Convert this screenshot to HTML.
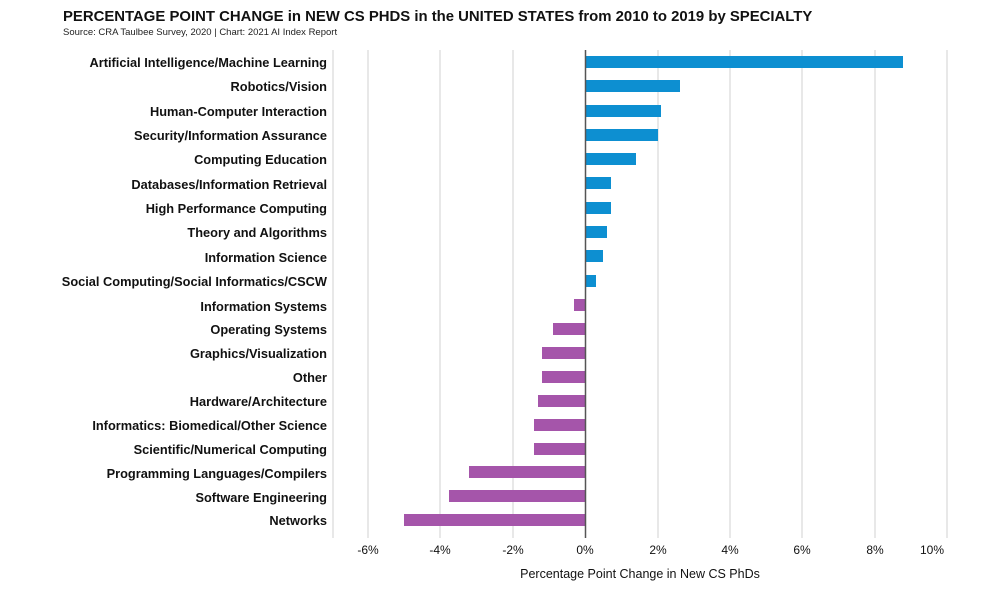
<!DOCTYPE html>
<html><head><meta charset="utf-8"><style>
body{margin:0;background:#fff;font-family:"Liberation Sans",sans-serif;}
</style></head><body>
<svg width="1000" height="585" xmlns="http://www.w3.org/2000/svg" font-family="Liberation Sans, sans-serif">
<text x="63" y="21" font-size="14.9" font-weight="bold" fill="#111">PERCENTAGE POINT CHANGE in NEW CS PHDS in the UNITED STATES from 2010 to 2019 by SPECIALTY</text>
<text x="63" y="35" font-size="9.5" fill="#222">Source: CRA Taulbee Survey, 2020 | Chart: 2021 AI Index Report</text>
<g stroke="#d0d0d0" stroke-width="1">
<line x1="333" y1="50" x2="333" y2="538"/>
<line x1="368" y1="50" x2="368" y2="538"/>
<line x1="440" y1="50" x2="440" y2="538"/>
<line x1="513" y1="50" x2="513" y2="538"/>
<line x1="658" y1="50" x2="658" y2="538"/>
<line x1="730" y1="50" x2="730" y2="538"/>
<line x1="802" y1="50" x2="802" y2="538"/>
<line x1="875" y1="50" x2="875" y2="538"/>
<line x1="947" y1="50" x2="947" y2="538"/>
</g>
<g fill="#0d8fd1">
<rect x="585" y="56" width="318" height="12"/>
<rect x="585" y="80" width="95" height="12"/>
<rect x="585" y="105" width="76" height="12"/>
<rect x="585" y="129" width="73" height="12"/>
<rect x="585" y="153" width="51" height="12"/>
<rect x="585" y="177" width="26" height="12"/>
<rect x="585" y="202" width="26" height="12"/>
<rect x="585" y="226" width="22" height="12"/>
<rect x="585" y="250" width="18" height="12"/>
<rect x="585" y="275" width="11" height="12"/>
</g>
<g fill="#a555aa">
<rect x="574" y="299" width="11" height="12"/>
<rect x="553" y="323" width="32" height="12"/>
<rect x="542" y="347" width="43" height="12"/>
<rect x="542" y="371" width="43" height="12"/>
<rect x="538" y="395" width="47" height="12"/>
<rect x="534" y="419" width="51" height="12"/>
<rect x="534" y="443" width="51" height="12"/>
<rect x="469" y="466" width="116" height="12"/>
<rect x="449" y="490" width="136" height="12"/>
<rect x="404" y="514" width="181" height="12"/>
</g>
<line x1="585.5" y1="50" x2="585.5" y2="538" stroke="#555" stroke-width="1.5"/>
<g font-size="12.8" fill="#111" text-anchor="end" font-weight="bold">
<text x="327" y="67">Artificial Intelligence/Machine Learning</text>
<text x="327" y="91">Robotics/Vision</text>
<text x="327" y="116">Human-Computer Interaction</text>
<text x="327" y="140">Security/Information Assurance</text>
<text x="327" y="164">Computing Education</text>
<text x="327" y="189">Databases/Information Retrieval</text>
<text x="327" y="213">High Performance Computing</text>
<text x="327" y="237">Theory and Algorithms</text>
<text x="327" y="262">Information Science</text>
<text x="327" y="286">Social Computing/Social Informatics/CSCW</text>
<text x="327" y="311">Information Systems</text>
<text x="327" y="334">Operating Systems</text>
<text x="327" y="358">Graphics/Visualization</text>
<text x="327" y="382">Other</text>
<text x="327" y="406">Hardware/Architecture</text>
<text x="327" y="430">Informatics: Biomedical/Other Science</text>
<text x="327" y="454">Scientific/Numerical Computing</text>
<text x="327" y="478">Programming Languages/Compilers</text>
<text x="327" y="502">Software Engineering</text>
<text x="327" y="525">Networks</text>
</g>
<g font-size="12" fill="#111" text-anchor="middle">
<text x="368" y="554">-6%</text>
<text x="440" y="554">-4%</text>
<text x="513" y="554">-2%</text>
<text x="585" y="554">0%</text>
<text x="658" y="554">2%</text>
<text x="730" y="554">4%</text>
<text x="802" y="554">6%</text>
<text x="875" y="554">8%</text>
<text x="932" y="554">10%</text>
<text x="640" y="578" font-size="12.5">Percentage Point Change in New CS PhDs</text>
</g>
</svg>
</body></html>
